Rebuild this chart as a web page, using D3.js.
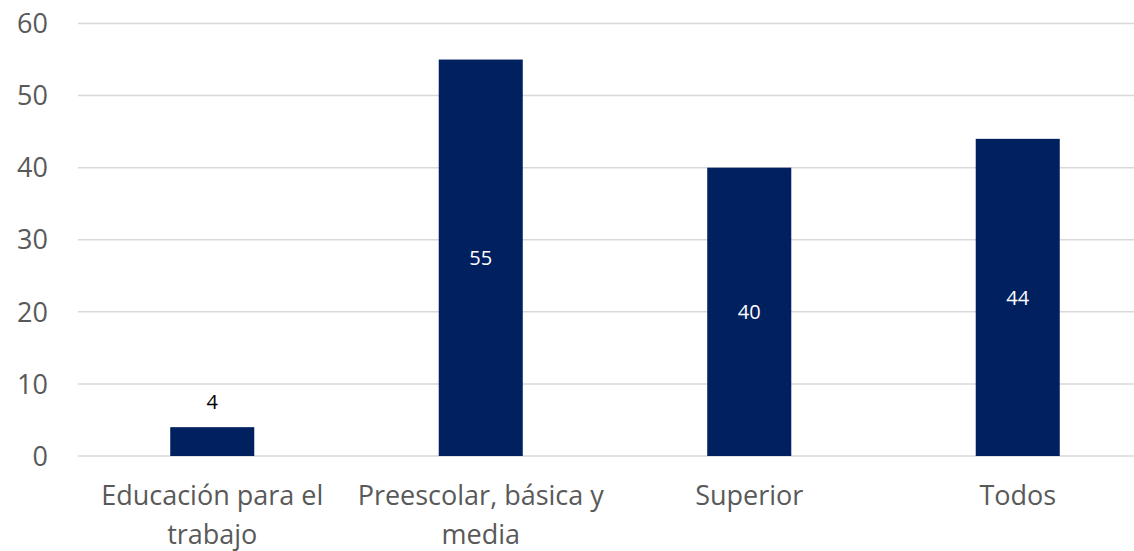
<!doctype html>
<html lang="es">
<head>
<meta charset="utf-8">
<title>Chart</title>
<script src="https://cdn.jsdelivr.net/npm/d3@7"></script>
<style>
  body { margin: 0; background: #fff; }
  svg { display: block; font-family: "Open Sans", sans-serif; }
  .grid line { stroke: #d9d9d9; stroke-width: 1.5px; }
  .tick-label { fill: #595959; font-size: 27px; }
  .cat-label { fill: #595959; font-size: 27px; }
</style>
</head>
<body>
<div id="chart"></div>
<script>
var categories = ["Educación para el trabajo", "Preescolar, básica y media", "Superior", "Todos"];
var values = [4, 55, 40, 44];
var yTicks = [0, 10, 20, 30, 40, 50, 60];

var width = 1134, height = 551;

var svg = d3.select("#chart").append("svg")
    .attr("width", width)
    .attr("height", height);

var x = d3.scaleBand()
    .domain(categories)
    .range([78, 1152])
    .paddingInner(0.687)
    .paddingOuter(0.3435);

var y = d3.scaleLinear()
    .domain([0, 60])
    .range([456, 23.5]);

// gridlines
svg.append("g").attr("class", "grid")
  .selectAll("line")
  .data(yTicks)
  .enter().append("line")
    .attr("x1", 78)
    .attr("x2", 1152)
    .attr("y1", function(d) { return y(d); })
    .attr("y2", function(d) { return y(d); });

// y labels
svg.append("g")
  .selectAll("text")
  .data(yTicks)
  .enter().append("text")
    .attr("class", "tick-label")
    .attr("x", 48)
    .attr("y", function(d) { return y(d); })
    .attr("dy", "0.36em")
    .attr("text-anchor", "end")
    .text(function(d) { return d; });

// bars
svg.append("g")
  .selectAll("rect")
  .data(values)
  .enter().append("rect")
    .attr("x", function(d, i) { return x(categories[i]); })
    .attr("y", function(d) { return y(d); })
    .attr("width", x.bandwidth())
    .attr("height", function(d) { return y(0) - y(d); })
    .attr("fill", "#002060");

// data labels: inside when bar is tall, above when short
svg.append("g")
  .selectAll("text")
  .data(values)
  .enter().append("text")
    .attr("x", function(d, i) { return x(categories[i]) + x.bandwidth() / 2; })
    .attr("y", function(d) {
      return d < 10 ? y(d) - 25 : (y(d) + y(0)) / 2;
    })
    .attr("dy", "0.36em")
    .attr("text-anchor", "middle")
    .attr("font-size", "20px")
    .attr("fill", function(d) { return d < 10 ? "#000" : "#fff"; })
    .text(function(d) { return d; });

// category labels, wrapped to band step
var step = x.step();
var cat = svg.append("g")
  .selectAll("text")
  .data(categories)
  .enter().append("text")
    .attr("class", "cat-label")
    .attr("text-anchor", "middle")
    .attr("x", function(d) { return x(d) + x.bandwidth() / 2; })
    .attr("y", 495);

cat.each(function(d) {
  var t = d3.select(this), words = d.split(" "), line = [], lines = [];
  var tspan = t.append("tspan");
  words.forEach(function(w) {
    line.push(w);
    tspan.text(line.join(" "));
    if (tspan.node().getComputedTextLength() > step - 20 && line.length > 1) {
      line.pop();
      lines.push(line.join(" "));
      line = [w];
    }
  });
  lines.push(line.join(" "));
  tspan.remove();
  var cx = t.attr("x");
  lines.forEach(function(l, i) {
    t.append("tspan").attr("x", cx).attr("dy", i === 0 ? "0.36em" : "39px").text(l);
  });
});
</script>
</body>
</html>
